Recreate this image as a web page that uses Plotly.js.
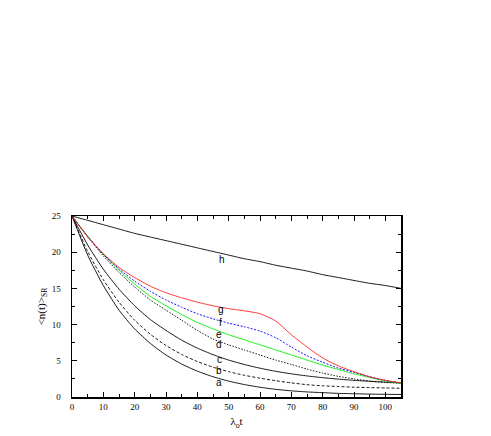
<!DOCTYPE html>
<html>
<head>
<meta charset="utf-8">
<script src="https://cdn.plot.ly/plotly-3.0.1.min.js"></script>
<style>
  html, body { margin: 0; padding: 0; background: #fff; }
  #chart { width: 491px; height: 436px; }
</style>
</head>
<body>
<div id="chart"></div>
<script>
// time axis (lambda_o t)
const t = [0, 5, 10, 15, 20, 25, 30, 35, 40, 45, 50, 55, 60, 65, 70, 75, 80, 85, 90, 95, 100, 105];

// curves a..h
const curveA = [25, 19.6, 15.4, 12.0, 9.4, 7.4, 5.8, 4.55, 3.57, 2.8, 2.19, 1.72, 1.35, 1.06, 0.85, 0.7, 0.6, 0.5, 0.45, 0.4, 0.37, 0.35];
const curveB = [25, 20.1, 16.2, 13.1, 10.6, 8.67, 7.11, 5.88, 4.9, 4.12, 3.5, 3.0, 2.6, 2.25, 1.95, 1.7, 1.55, 1.45, 1.35, 1.3, 1.25, 1.2];
const curveC = [25, 21.0, 17.65, 14.9, 12.6, 10.7, 9.2, 7.85, 6.75, 5.85, 5.1, 4.49, 3.98, 3.55, 3.2, 2.91, 2.67, 2.47, 2.3, 2.17, 2.05, 1.95];
const curveD = [25, 22.1, 19.5, 17.2, 15.2, 13.4, 12.0, 10.6, 9.2, 8.0, 7.2, 6.5, 5.8, 5.1, 4.5, 3.85, 3.3, 2.85, 2.5, 2.2, 2.0, 1.9];
const curveE = [25, 22.2, 19.7, 17.5, 15.6, 13.9, 12.6, 11.4, 10.3, 9.4, 8.6, 7.9, 7.2, 6.5, 5.8, 5.1, 4.4, 3.8, 3.2, 2.7, 2.2, 1.9];
const curveF = [25, 22.2, 19.7, 17.7, 16.0, 14.6, 13.4, 12.4, 11.5, 10.8, 10.2, 9.7, 9.1, 8.2, 6.9, 5.7, 4.8, 4.0, 3.4, 2.8, 2.3, 1.95];
const curveG = [25, 22.1, 19.8, 17.9, 16.5, 15.3, 14.4, 13.7, 13.1, 12.6, 12.2, 11.9, 11.5, 10.5, 8.6, 6.9, 5.4, 4.3, 3.5, 2.8, 2.3, 1.95];
const curveH = [25, 24.4, 23.8, 23.2, 22.6, 22.1, 21.6, 21.1, 20.6, 20.1, 19.6, 19.1, 18.7, 18.2, 17.8, 17.4, 16.9, 16.5, 16.1, 15.7, 15.4, 15.0];

// label positions
const labelText = ['a', 'b', 'c', 'd', 'e', 'f', 'g', 'h'];
const labelX = [47, 47, 47, 47, 47, 47.5, 47.5, 48];
const labelY = [1.95, 3.6, 5.2, 7.2, 8.7, 10.3, 12.1, 19.0];

const line = (y, color, dash) => ({
  x: t, y: y,
  type: 'scatter',
  mode: 'lines',
  line: { color: color, width: 0.9, dash: dash, shape: 'spline', smoothing: 0.6 },
  hoverinfo: 'skip'
});

const data = [
  line(curveA, '#000000', 'solid'),
  line(curveB, '#000000', '3px,2px'),
  line(curveC, '#000000', 'solid'),
  line(curveD, '#000000', '1.5px,1.5px'),
  line(curveE, '#00ee00', 'solid'),
  line(curveF, '#0000ff', '2px,1.5px'),
  line(curveG, '#ff2020', 'solid'),
  line(curveH, '#000000', 'solid')
];

const annotations = labelText.map((s, i) => ({
  x: labelX[i], y: labelY[i],
  text: s,
  showarrow: false,
  font: { family: 'Liberation Sans, Arial, sans-serif', size: 10, color: '#000' }
}));

const axisCommon = {
  showline: true,
  linecolor: '#000',
  linewidth: 1.5,
  mirror: 'allticks',
  ticks: 'inside',
  ticklen: 5,
  tickwidth: 1,
  tickcolor: '#000',
  showgrid: false,
  zeroline: false,
  tickfont: { family: 'Liberation Serif, Times New Roman, serif', size: 9, color: '#000' }
};

const layout = {
  width: 491,
  height: 436,
  margin: { l: 72, r: 90, t: 216, b: 39 },
  paper_bgcolor: '#fff',
  plot_bgcolor: '#fff',
  showlegend: false,
  xaxis: Object.assign({}, axisCommon, {
    range: [0, 105],
    tickvals: [0, 10, 20, 30, 40, 50, 60, 70, 80, 90, 100],
    minor: { dtick: 5, tick0: 0, ticks: 'inside', ticklen: 3, tickcolor: '#000' },
    ticklabelstandoff: 1,
    title: { text: 'λ<sub>o</sub>t', standoff: 6,
      font: { family: 'Liberation Serif, Times New Roman, serif', size: 11, color: '#000' } }
  }),
  yaxis: Object.assign({}, axisCommon, {
    range: [0, 25],
    tickvals: [0, 5, 10, 15, 20, 25],
    minor: { dtick: 2.5, tick0: 0, ticks: 'inside', ticklen: 3, tickcolor: '#000' },
    ticklabelstandoff: 8,
    title: { text: '<n(t)><sub>SR</sub>', standoff: 4,
      font: { family: 'Liberation Serif, Times New Roman, serif', size: 11, color: '#000' } }
  }),
  annotations: annotations
};

Plotly.newPlot('chart', data, layout, { displayModeBar: false, staticPlot: true });
</script>
</body>
</html>
